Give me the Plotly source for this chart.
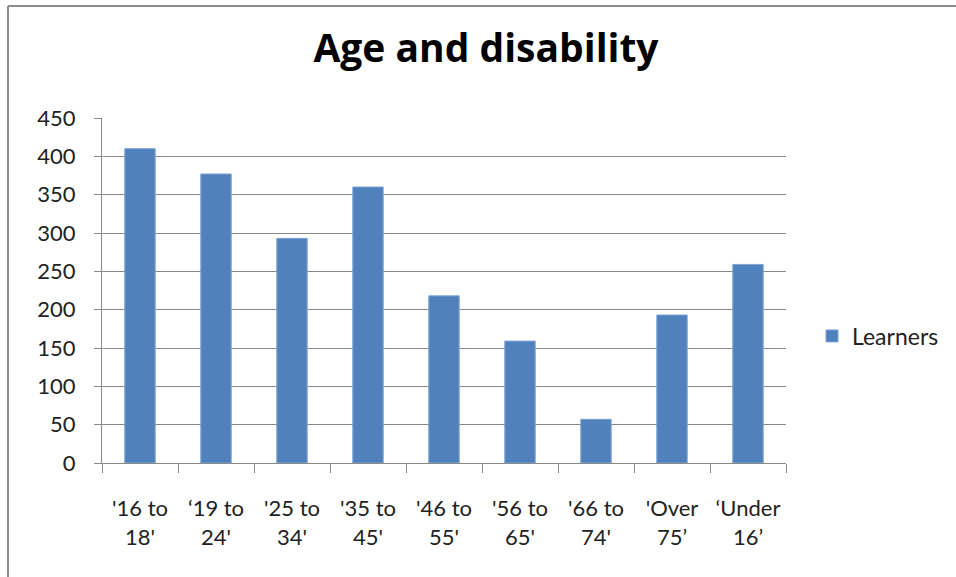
import plotly.graph_objects as go

# Learners by age band
age_bands = ["'16 to<br>18'", "‘19 to<br>24'", "'25 to<br>34'", "'35 to<br>45'",
             "'46 to<br>55'", "'56 to<br>65'", "'66 to<br>74'", "'Over<br>75’", "‘Under<br>16’"]
learners = [410, 377, 293, 360, 218, 159, 57, 193, 259]
y_ticks = [0, 50, 100, 150, 200, 250, 300, 350, 400, 450]

W, H = 956, 577
M_L, M_R, M_T, M_B = 102, 170, 118, 114
BAR_COLOR = "#4F81BD"
GRID = "#8a8a8a"
FONT = "Lato"

fig = go.Figure(go.Bar(
    x=age_bands,
    y=learners,
    name="Learners",
    marker=dict(color=BAR_COLOR, line=dict(color="#7fa3d3", width=1)),
))

# frame around the chart (top and left edges are the visible ones)
pw = W - M_L - M_R
ph = H - M_T - M_B
def px_x(v):
    return (v - M_L) / pw
def px_y(v):
    return 1 - (v - M_T) / ph

frame = dict(type="line", xref="paper", yref="paper", line=dict(color="#8c8c8c", width=2))
shapes = [
    dict(frame, x0=px_x(8), x1=px_x(W + 5), y0=px_y(6), y1=px_y(6)),
    dict(frame, x0=px_x(8), x1=px_x(8), y0=px_y(6), y1=px_y(H + 5)),
]

fig.update_layout(
    width=W, height=H,
    margin=dict(l=M_L, r=M_R, t=M_T, b=M_B),
    paper_bgcolor="white", plot_bgcolor="white",
    font=dict(family=FONT, size=22, color="#222222"),
    title=dict(text="<b>Age and disability</b>", font=dict(family="Open Sans", size=39, color="black"),
               x=486 / W, xanchor="center", xref="container",
               y=1 - 48 / H, yanchor="middle", yref="container"),
    bargap=0.6,
    showlegend=True,
    legend=dict(xref="container", yref="container", x=812 / W, xanchor="left",
                y=1 - 336 / H, yanchor="middle", font=dict(size=23, color="#222222"),
                bgcolor="rgba(0,0,0,0)"),
    shapes=shapes,
)

fig.update_xaxes(
    type="category", tickson="boundaries", ticks="outside", ticklen=9, tickcolor=GRID,
    showline=True, linecolor=GRID, linewidth=1, showgrid=False,
    ticklabelstandoff=26, tickangle=0,
)
fig.update_yaxes(
    range=[0, 450], tickvals=y_ticks, ticks="outside", ticklen=7, tickcolor=GRID,
    showline=True, linecolor=GRID, linewidth=1,
    showgrid=True, gridcolor=GRID, gridwidth=1, zeroline=False,
    ticklabelstandoff=14,
)

fig.write_html("out.html")
